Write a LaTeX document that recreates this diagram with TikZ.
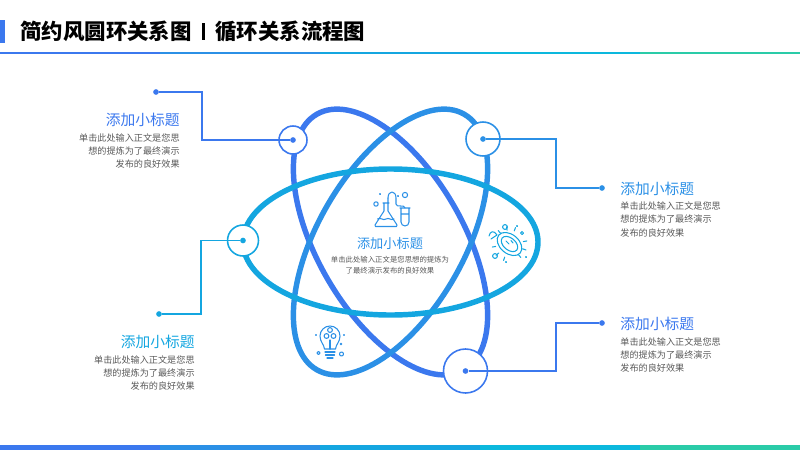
\documentclass[tikz,border=0pt]{standalone}
\usepackage{fontspec}
\setmainfont{Noto Sans CJK SC}
\usetikzlibrary{calc}
\definecolor{barA}{HTML}{3B78EE}
\definecolor{barB}{HTML}{2B90E6}
\definecolor{barC}{HTML}{14A6E0}
\definecolor{barD}{HTML}{0CB8DD}
\definecolor{barE}{HTML}{2ACBA8}
\definecolor{bodygray}{HTML}{595959}
\tikzset{
    orbit/.style={line width=3.1pt},
    hub/.style={circle,draw,fill=white,line width=0.9pt,inner sep=0pt},
    tip/.style={circle,inner sep=0pt,minimum size=3.4mm/3},
    lead/.style={line width=0.7pt},
    headtext/.style={inner sep=0pt,font=\fontsize{8.4}{10}\selectfont},
    bodytext/.style={inner sep=0pt,text=bodygray,font=\fontsize{5.2}{7.6}\selectfont},
    icon/.style={line width=0.6pt,line cap=round,line join=round}
}
\begin{document}
\begin{tikzpicture}[x=0.02cm,y=-0.02cm]
    \useasboundingbox (0,0) rectangle (800,450);

    % Draw the title and the bars
    \fill[barA] (0,20) rectangle (5,43);
    \node[inner sep=0pt,anchor=west,font=\fontsize{12.2}{14}\selectfont\bfseries] (title) at (20,31) {简约风圆环关系图};
    \node[inner sep=0pt,anchor=west,font=\fontsize{12.2}{14}\selectfont\bfseries] (subtitle) at (215,31) {循环关系流程图};
    \fill[black] (202,22.5) rectangle (205,40);
    \foreach \i/\c in {0/barA,1/barB,2/barC,3/barD,4/barE} {
        \fill[\c] (160*\i,52) rectangle (160*\i+160,54);
        \fill[\c] (160*\i,445) rectangle (160*\i+160,450);
    }

    % Draw the three orbits
    \draw[orbit,barA] (390.5,242) [rotate around={-60:(390.5,242)}] ellipse [x radius=147.5,y radius=73];
    \draw[orbit,barB] (390.5,242) [rotate around={60:(390.5,242)}] ellipse [x radius=147.5,y radius=73];
    \draw[orbit,barC] (390.5,242) ellipse [x radius=147.5,y radius=73];

    % Draw the hubs on the orbits
    \node[hub,draw=barA,minimum size=0.56cm] (hubA) at (293,140) {};
    \node[hub,draw=barB,minimum size=0.68cm] (hubB) at (483,139) {};
    \node[hub,draw=barC,minimum size=0.62cm] (hubC) at (243,240.5) {};
    \node[hub,draw=barA,minimum size=0.88cm] (hubD) at (465.5,371) {};

    % Draw the end dots
    \node[tip,fill=barA] (tipA) at (156,92) {};
    \node[tip,fill=barB] (tipB) at (602,188) {};
    \node[tip,fill=barC] (tipC) at (159,314) {};
    \node[tip,fill=barA] (tipD) at (602,323) {};
    \node[tip,fill=barA] (dotA) at (hubA.center) {};
    \node[tip,fill=barB] (dotB) at (hubB.center) {};
    \node[tip,fill=barC] (dotC) at (hubC.center) {};
    \node[tip,fill=barA] (dotD) at (hubD.center) {};

    % Connect hubs and dots
    \coordinate (kneeA) at (202,140);
    \coordinate (kneeB) at (556,139);
    \coordinate (kneeC) at (201,240.5);
    \coordinate (kneeD) at (556,371);
    \draw[lead,barA] (dotA) -- (kneeA) |- (tipA);
    \draw[lead,barB] (dotB) -- (kneeB) |- (tipB);
    \draw[lead,barC] (dotC) -- (kneeC) |- (tipC);
    \draw[lead,barA] (dotD) -- (kneeD) |- (tipD);

    % Label the four corners
    \node[headtext,text=barA,anchor=east] (headA) at (180,120) {添加小标题};
    \node[bodytext,align=right,anchor=north east] (bodyA) at (180,133) {单击此处输入正文是您思\\想的提炼为了最终演示\\发布的良好效果};
    \node[headtext,text=barB,anchor=west] (headB) at (620,188.5) {添加小标题};
    \node[bodytext,align=left,anchor=north west] (bodyB) at (620,201.5) {单击此处输入正文是您思\\想的提炼为了最终演示\\发布的良好效果};
    \node[headtext,text=barC,anchor=east] (headC) at (195,342) {添加小标题};
    \node[bodytext,align=right,anchor=north east] (bodyC) at (195,355) {单击此处输入正文是您思\\想的提炼为了最终演示\\发布的良好效果};
    \node[headtext,text=barA,anchor=west] (headD) at (620,324) {添加小标题};
    \node[bodytext,align=left,anchor=north west] (bodyD) at (620,337) {单击此处输入正文是您思\\想的提炼为了最终演示\\发布的良好效果};

    % Label the centre
    \node[headtext,text=barB,font=\fontsize{7.5}{9}\selectfont] (headM) at (390,243) {添加小标题};
    \node[bodytext,align=center,anchor=north,font=\fontsize{4.2}{6.1}\selectfont] (bodyM) at (390,256) {单击此处输入正文是您思想的提炼为\\了最终演示发布的良好效果};

    % Draw the flask icon
    \begin{scope}[icon,barB]
        \draw (383,203) -- (389,203) (384,203) -- (384,211) -- (375,225) -- (375.5,226.5) -- (396.5,226.5) -- (397,225) -- (388,211) -- (388,198);
        \draw (377.5,219) .. controls (381,217) and (383,221) .. (386,219) .. controls (389,217) and (391,221) .. (394,219);
        \draw (388,198) .. controls (388,190) and (396,190) .. (396,198) -- (396,204) .. controls (396,208) and (405,204) .. (405,208);
        \draw (400,208) -- (410,208) (401,208) -- (401,222) arc[start angle=180,end angle=0,radius=4] -- (409,208) (401,214) -- (409,214);
        \draw (405,195) circle (2.6) (376,204) circle (2.2) (380,194) circle (0.5) (398,196) circle (0.5);
    \end{scope}

    % Draw the bacterium icon
    \begin{scope}[icon,barC]
        \draw (509.5,244) [rotate around={-40:(509.5,244)}] ellipse [x radius=14,y radius=9.5];
        \draw (509.5,244) [rotate around={-40:(509.5,244)}] ellipse [x radius=9.5,y radius=6];
        \draw (506,241) -- (509,244) (511,240.5) -- (513,243);
        \foreach \a in {-130,-100,-70,-10,20,50,110,140,170}
            \draw ($(509.5,244)+(\a:14)$) -- ($(509.5,244)+(\a:17.5)$);
        \draw (497,235) .. controls (494,230) and (490,231) .. (489,236) (497,235) -- (491,239);
        \draw (505,227) circle (2.4) (495,256) circle (2.4) (522,233) circle (1.5) (517,226) circle (0.5) (506,262) circle (0.5) (526,257) circle (0.5);
    \end{scope}

    % Draw the bulb icon
    \begin{scope}[icon,barB]
        \draw (324.5,349) .. controls (324,344) and (320,342) .. (320,336) arc[start angle=180,end angle=360,radius=10] .. controls (340,342) and (336,344) .. (335.5,349) -- cycle;
        \draw (325,352) -- (335,352) (325.5,355) -- (334.5,355) (327,358) -- (333,358) (330,349) -- (330,340);
        \draw (330,330) circle (2.4) (326.5,336) circle (2.4) (333.5,336) circle (2.4);
        \draw (318.5,353) circle (1.6) (341.5,354) circle (2) (316,335) circle (0.4) (344,335) circle (0.4);
        \fill (341,344) circle (1.4);
    \end{scope}
\end{tikzpicture}
\end{document}
